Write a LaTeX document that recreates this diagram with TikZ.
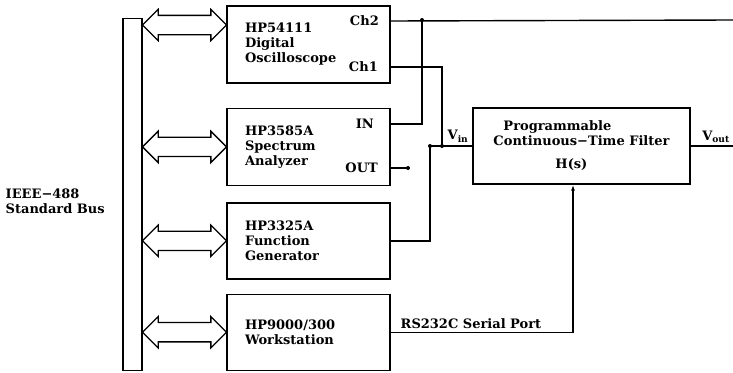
\documentclass[tikz,border=0pt]{standalone}
\usepackage{fontspec}
\setmainfont{DejaVu Serif}
\usetikzlibrary{positioning,arrows.meta,calc,shapes.arrows}
\tikzset{
  txt/.style={font=\bfseries\fontsize{13}{15}\selectfont},
  instr/.style={txt, draw, line width=1.4pt, minimum width=163pt, minimum height=77pt,
                text width=127pt, inner xsep=18pt, align=left},
  filtbox/.style={txt, draw, line width=1.4pt, minimum width=217pt, minimum height=76pt,
                  align=left},
  busbar/.style={draw, line width=1.4pt, minimum width=19pt, minimum height=352pt, inner sep=0pt},
  busarrow/.style={draw, line width=1.3pt, double arrow, double arrow head extend=6pt,
                   minimum height=84pt, inner xsep=0pt, inner ysep=9pt},
  port/.style={txt, inner sep=0pt, anchor=east},
  lbl/.style={txt, inner sep=1.5pt},
  wire/.style={line width=1.4pt},
  dot/.style={fill, circle, inner sep=0pt, minimum size=4pt},
}

\begin{document}
\begin{tikzpicture}[x=1pt, y=-1pt]
  \useasboundingbox (0,0) rectangle (733,372);
  % bus and its label
  \node[busbar] (bus) at (132.5,194.5) {};
  \node[lbl, anchor=west, align=left] (buslbl) at (4,201) {IEEE−488\\Standard Bus};
  % instruments
  \node[instr] (osc) at (308.5,44.5) {HP54111\\Digital\\Oscilloscope};
  \node[instr, below=24pt of osc] (sa) {HP3585A\\Spectrum\\Analyzer};
  \node[instr, below=16pt of sa, minimum height=76pt] (fg) {HP3325A\\Function\\Generator};
  \node[instr, below=14pt of fg, minimum height=76pt] (ws) {HP9000/300\\Workstation};
  \node[port] (ch2) at (379,21) {Ch2};
  \node[port] (ch1) at (378,67) {Ch1};
  \node[port] (sain) at (374,124) {IN};
  \node[port] (saout) at (378,168) {OUT};
  % filter
  \node[filtbox] (filt) at (581.5,146)
    {\hspace*{10pt}Programmable\\Continuous−Time Filter\\[8pt]\hspace*{62pt}H(s)};
  % bus links
  \node[busarrow] (ar1) at ($(bus.east |- osc)!0.5!(osc.west) + (0,-19.5)$) {};
  \node[busarrow] (ar2) at ($(bus.east |- sa)!0.5!(sa.west)$) {};
  \node[busarrow] (ar3) at ($(bus.east |- fg)!0.5!(fg.west)$) {};
  \node[busarrow] (ar4) at ($(bus.east |- ws)!0.5!(ws.west)$) {};
  % wiring
  \coordinate (j2) at (422,20);
  \coordinate (j1) at (442,146);
  \coordinate (j0) at (430,146);
  \coordinate (ch2end) at (733,20);
  \coordinate (voutend) at (733,146);
  \coordinate (outend) at (408,168);
  \draw[wire] (osc.east |- ch2) -- (ch2end);
  \draw[wire] (j2) |- (sa.east |- sain);
  \draw[wire] (osc.east |- ch1) -| (j1);
  \draw[wire] (fg.east) -| (j0) -- (filt.west);
  \draw[wire] (sa.east |- saout) -- (outend);
  \draw[wire] (filt.east) -- (voutend);
  \draw[wire, -{Latex[length=6pt,width=4pt]}] (ws.east) -| ($(filt.south)+(-8.5,0)$);
  \node[dot] at (j2) {};
  \node[dot] at (j1) {};
  \node[dot] at (j0) {};
  \node[dot] at (outend) {};
  % labels
  \node[lbl, anchor=south] (vin) at (458,144) {V\textsubscript{in}};
  \node[lbl, anchor=south] (vout) at (716,144) {V\textsubscript{out}};
  \node[lbl, anchor=south west] (rslbl) at (399,330) {RS232C Serial Port};
\end{tikzpicture}
\end{document}
